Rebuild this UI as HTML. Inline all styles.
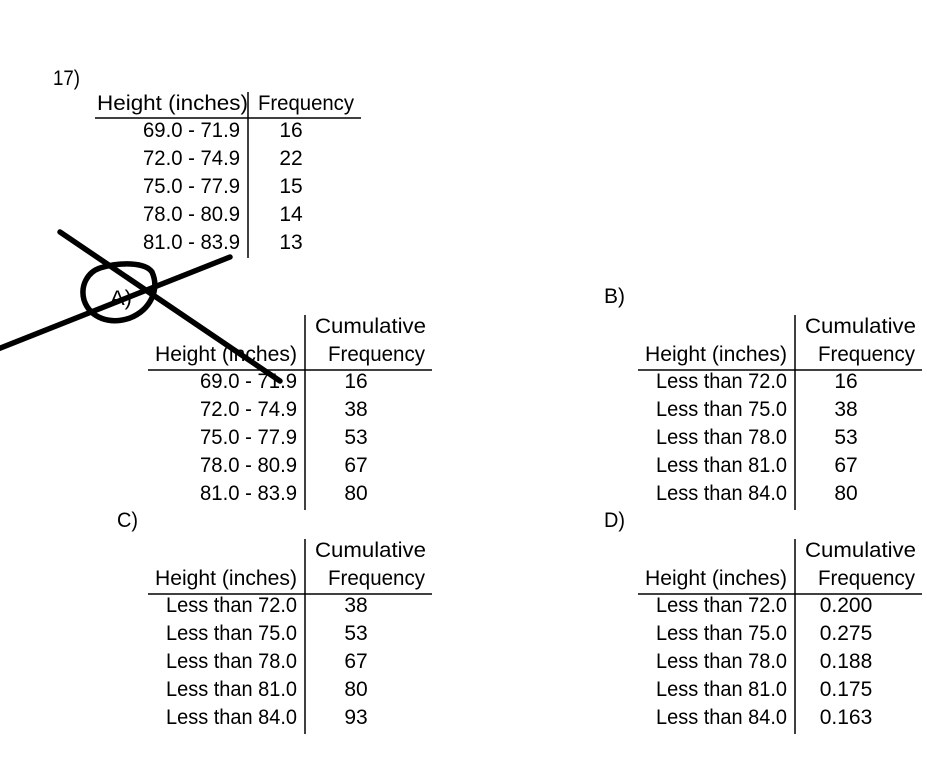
<!DOCTYPE html>
<html><head><meta charset="utf-8">
<style>
html,body{margin:0;padding:0;background:#fff;}
svg{display:block;}
text{font-family:"Liberation Sans",sans-serif;font-size:21px;fill:#000;}
</style></head>
<body>
<svg id="s" width="927" height="758" viewBox="0 0 927 758">
<text x="53" y="85" textLength="27" lengthAdjust="spacingAndGlyphs">17)</text>
<text x="110" y="305" textLength="22" lengthAdjust="spacingAndGlyphs">A)</text>
<text x="604" y="303" textLength="21" lengthAdjust="spacingAndGlyphs">B)</text>
<text x="117" y="527" textLength="21" lengthAdjust="spacingAndGlyphs">C)</text>
<text x="604" y="527" textLength="21" lengthAdjust="spacingAndGlyphs">D)</text>
<g id="tables"></g>
<g stroke="#000" stroke-width="5.5" fill="none" stroke-linecap="round">
<line x1="60" y1="232" x2="280" y2="381"/>
<line x1="-2" y1="349" x2="230" y2="257"/>
<path d="M100,268 C120,262 145,262 152,272 C160,290 150,310 130,318 C110,325 90,318 84,300 C80,285 88,272 100,268 Z"/>
</g>
</svg>
<script>
const ranges = ["69.0 - 71.9","72.0 - 74.9","75.0 - 77.9","78.0 - 80.9","81.0 - 83.9"];
const lessThan = ["Less than 72.0","Less than 75.0","Less than 78.0","Less than 81.0","Less than 84.0"];
const freqValues = ["16","22","15","14","13"];
const aValues = ["16","38","53","67","80"];
const bValues = ["16","38","53","67","80"];
const cValues = ["38","53","67","80","93"];
const dValues = ["0.200","0.275","0.188","0.175","0.163"];

const NS="http://www.w3.org/2000/svg";
const g=document.getElementById('tables');
function txt(x,y,s,anchor,w,name){
  const t=document.createElementNS(NS,'text');
  t.setAttribute('x',x);t.setAttribute('y',y);
  t.setAttribute('text-anchor',anchor);
  if(w){t.setAttribute('textLength',w);t.setAttribute('lengthAdjust','spacingAndGlyphs');}
  t.textContent=s;
  
  
  g.appendChild(t);
}
function line(x1,y1,x2,y2,name){
  const l=document.createElementNS(NS,'line');
  l.setAttribute('x1',x1);l.setAttribute('y1',y1);l.setAttribute('x2',x2);l.setAttribute('y2',y2);
  l.setAttribute('stroke','#000');l.setAttribute('stroke-width','1.5');
  
  
  g.appendChild(l);
}
txt(97,110,"Height (inches)","start",151,"height-header");
txt(258,110,"Frequency","start",96,"frequency-header");
line(95,118,361,118,"header-rule");
line(248,92,248,258,"column-divider");
ranges.forEach((r,i)=>{
  txt(240,137+i*28,r,"end",97,"class-range");
  txt(291,137+i*28,freqValues[i],"middle",null,"frequency-value");
});
function cumTable(dx,dy,labels,vals,lw){
  txt(dx+315,dy+333,"Cumulative","start",111,"cumulative-header");
  txt(dx+155,dy+361,"Height (inches)","start",142,"height-header");
  txt(dx+328,dy+361,"Frequency","start",97,"frequency-header");
  line(dx+148,dy+370,dx+432,dy+370,"header-rule");
  line(dx+305,dy+315,dx+305,dy+510,"column-divider");
  labels.forEach((r,i)=>{
    txt(dx+297,dy+388+i*28,r,"end",lw,"row-label");
    txt(dx+356,dy+388+i*28,vals[i],"middle",null,"cumulative-value");
  });
}
cumTable(0,0,ranges,aValues,97);
cumTable(490,0,lessThan,bValues,131);
cumTable(0,224,lessThan,cValues,131);
cumTable(490,224,lessThan,dValues,131);
</script>
</body></html>
